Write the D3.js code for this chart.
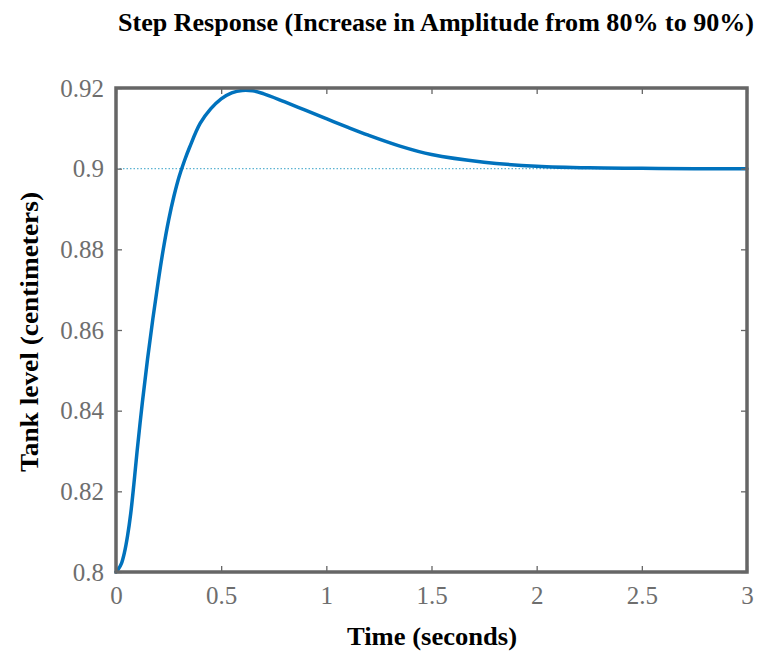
<!DOCTYPE html>
<html>
<head>
<meta charset="utf-8">
<script src="https://cdn.jsdelivr.net/npm/d3@7"></script>
<style>
  body { margin: 0; background: #fff; }
  svg { display: block; }
</style>
</head>
<body>
<svg id="root" width="757" height="655"></svg>
<script>
// values
const timeSec = [0, 0.01, 0.025, 0.04, 0.055, 0.07, 0.085, 0.1, 0.125, 0.15, 0.175, 0.2, 0.225,
  0.25, 0.275, 0.3, 0.325, 0.35, 0.4, 0.45, 0.5, 0.55, 0.6, 0.65, 0.7, 0.8, 0.9, 1.0, 1.1, 1.2,
  1.35, 1.5, 1.75, 2.0, 2.25, 2.5, 2.75, 3.0];
const level = [0.8, 0.8006, 0.802, 0.8048, 0.809, 0.8145, 0.8218, 0.8298, 0.8419, 0.8528, 0.8627,
  0.8718, 0.8801, 0.8872, 0.8931, 0.898, 0.9019, 0.9053, 0.9112, 0.9148, 0.9173, 0.9188, 0.9194,
  0.9193, 0.9186, 0.9166, 0.9145, 0.9124, 0.9103, 0.9083, 0.9056, 0.9035, 0.9016, 0.9006, 0.9002,
  0.9001, 0.9, 0.9];
const steadyState = 0.9;
const xTicks = [0, 0.5, 1, 1.5, 2, 2.5, 3];
const yTicks = [0.8, 0.82, 0.84, 0.86, 0.88, 0.9, 0.92];

const svg = d3.select('#root');

const margin = { left: 116, right: 10, top: 88, bottom: 83 };
const width = 757, height = 655;

const x = d3.scaleLinear().domain([0, 3]).range([margin.left, width - margin.right]);
const y = d3.scaleLinear().domain([0.8, 0.92]).range([height - margin.bottom, margin.top]);

const grey = '#666';
const labelGrey = '#6e6e6e';
const font = "'Liberation Serif', 'Times New Roman', serif";

// steady state line
svg.append('line')
  .attr('x1', x(0)).attr('x2', x(3))
  .attr('y1', y(steadyState)).attr('y2', y(steadyState))
  .attr('stroke', '#5cb3d2')
  .attr('stroke-width', 1.2)
  .attr('stroke-dasharray', '1.5,2');

// response
const line = d3.line()
  .x((d, i) => x(timeSec[i]))
  .y(d => y(d))
  .curve(d3.curveCatmullRom.alpha(0.5));

svg.append('path')
  .datum(level)
  .attr('fill', 'none')
  .attr('stroke', '#0072bd')
  .attr('stroke-width', 3.5)
  .attr('stroke-linejoin', 'round')
  .attr('stroke-linecap', 'round')
  .attr('d', line);

// axes (ticks point inward on every side)
const tickLen = 6;
const axisStyle = (g) => {
  g.select('.domain').remove();
  g.selectAll('.tick line').attr('stroke', grey).attr('stroke-width', 1.3);
  g.selectAll('.tick text').attr('fill', labelGrey).attr('font-family', font).attr('font-size', 25);
};

svg.append('g')
  .attr('transform', `translate(0,${y(0.8)})`)
  .call(d3.axisBottom(x).tickValues(xTicks).tickFormat(d3.format('')).tickSize(-tickLen).tickPadding(14))
  .call(axisStyle);

svg.append('g')
  .attr('transform', `translate(0,${y(0.92)})`)
  .call(d3.axisTop(x).tickValues(xTicks).tickSize(-tickLen).tickFormat(''))
  .call(axisStyle);

svg.append('g')
  .attr('transform', `translate(${x(0)},0)`)
  .call(d3.axisLeft(y).tickValues(yTicks).tickFormat(d3.format('')).tickSize(-tickLen).tickPadding(12))
  .call(axisStyle);

svg.append('g')
  .attr('transform', `translate(${x(3)},0)`)
  .call(d3.axisRight(y).tickValues(yTicks).tickSize(-tickLen).tickFormat(''))
  .call(axisStyle);

// box
svg.append('rect')
  .attr('x', x(0)).attr('y', y(0.92))
  .attr('width', x(3) - x(0)).attr('height', y(0.8) - y(0.92))
  .attr('fill', 'none')
  .attr('stroke', grey)
  .attr('stroke-width', 3.5);

// titles
svg.append('text')
  .attr('x', 436).attr('y', 31)
  .attr('text-anchor', 'middle')
  .attr('font-family', font).attr('font-weight', 'bold').attr('font-size', 25)
  .attr('textLength', 636).attr('lengthAdjust', 'spacingAndGlyphs')
  .text('Step Response (Increase in Amplitude from 80% to 90%)');

svg.append('text')
  .attr('x', 432).attr('y', 645)
  .attr('text-anchor', 'middle')
  .attr('font-family', font).attr('font-weight', 'bold').attr('font-size', 25)
  .attr('textLength', 170).attr('lengthAdjust', 'spacingAndGlyphs')
  .text('Time (seconds)');

svg.append('text')
  .attr('transform', `translate(38,332) rotate(-90)`)
  .attr('text-anchor', 'middle')
  .attr('font-family', font).attr('font-weight', 'bold').attr('font-size', 25)
  .attr('textLength', 280).attr('lengthAdjust', 'spacingAndGlyphs')
  .text('Tank level (centimeters)');
</script>
</body>
</html>
